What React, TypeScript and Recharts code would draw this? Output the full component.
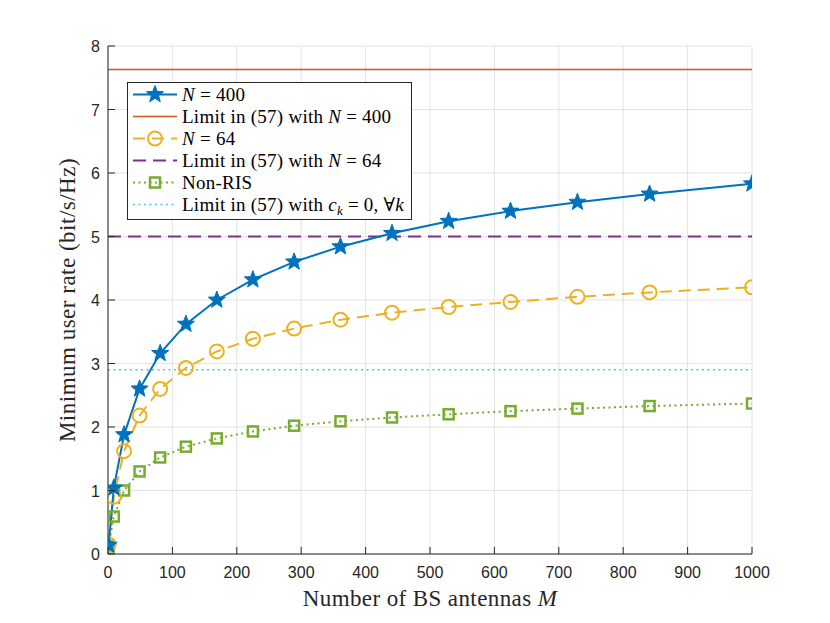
import React from 'react';
import { LineChart, Line, XAxis, YAxis, CartesianGrid, ReferenceLine, Legend } from 'recharts';

const antennas = [1, 9, 25, 49, 81, 121, 169, 225, 289, 361, 441, 529, 625, 729, 841, 1000];
const rateN400 = [0.14, 1.04, 1.88, 2.6, 3.16, 3.62, 4.0, 4.32, 4.6, 4.84, 5.05, 5.24, 5.4, 5.54, 5.67, 5.83];
const rateN64 = [0.15, 0.9, 1.62, 2.18, 2.6, 2.93, 3.19, 3.39, 3.55, 3.69, 3.8, 3.89, 3.97, 4.05, 4.12, 4.2];
const rateNonRIS = [0.12, 0.59, 1.0, 1.3, 1.52, 1.69, 1.82, 1.93, 2.02, 2.09, 2.15, 2.2, 2.25, 2.29, 2.33, 2.37];
const limitN400 = 7.63;
const limitN64 = 5.0;
const limitNonRIS = 2.9;
const xTicks = [0, 100, 200, 300, 400, 500, 600, 700, 800, 900, 1000];
const yTicks = [0, 1, 2, 3, 4, 5, 6, 7, 8];

const C_BLUE = '#0072BD';
const C_ORANGE = '#D95319';
const C_YELLOW = '#EDB120';
const C_PURPLE = '#7E2F8E';
const C_GREEN = '#77AC30';
const C_CYAN = '#4DBEEE';
const AXIS = '#262626';
const GRID = '#e3e3e3';
const SERIF = '"Liberation Serif", "DejaVu Serif", serif';
const SANS = '"Liberation Sans", Arial, sans-serif';

const data = antennas.map((m, i) => ({ m, n400: rateN400[i], n64: rateN64[i], nonris: rateNonRIS[i] }));

function starPoints(cx: number, cy: number, R: number) {
  const r = R * 0.42;
  const pts: string[] = [];
  for (let i = 0; i < 10; i++) {
    const rad = i % 2 === 0 ? R : r;
    const a = -Math.PI / 2 + (i * Math.PI) / 5;
    pts.push(`${cx + rad * Math.cos(a)},${cy + rad * Math.sin(a)}`);
  }
  return pts.join(' ');
}

const StarDot = (p: any) => {
  if (p.cx == null || p.cy == null) return <g key={p.index} />;
  return <polygon key={p.index} points={starPoints(p.cx, p.cy, 9)} fill={C_BLUE} stroke={C_BLUE} strokeWidth={1} />;
};
const CircleDot = (p: any) => {
  if (p.cx == null || p.cy == null) return <g key={p.index} />;
  return <circle key={p.index} cx={p.cx} cy={p.cy} r={7} fill="none" stroke={C_YELLOW} strokeWidth={2} />;
};
const SquareDot = (p: any) => {
  if (p.cx == null || p.cy == null) return <g key={p.index} />;
  return <rect key={p.index} x={p.cx - 5} y={p.cy - 5} width={10} height={10} fill="none" stroke={C_GREEN} strokeWidth={2.5} />;
};

const BottomTick = (p: any) => (
  <g>
    <line x1={p.x} y1={p.y} x2={p.x} y2={p.y - 7} stroke={AXIS} strokeWidth={1} />
    <text x={p.x} y={p.y + 24} textAnchor="middle" fontFamily={SANS} fontSize={16} fill={AXIS}>{p.payload.value}</text>
  </g>
);
const LeftTick = (p: any) => (
  <g>
    <line x1={p.x} y1={p.y} x2={p.x + 7} y2={p.y} stroke={AXIS} strokeWidth={1} />
    <text x={p.x - 8} y={p.y + 6} textAnchor="end" fontFamily={SANS} fontSize={16} fill={AXIS}>{p.payload.value}</text>
  </g>
);
const TopTick = (p: any) => (
  <line x1={p.x} y1={p.y} x2={p.x} y2={p.y + 7} stroke={AXIS} strokeWidth={1} />
);
const RightTick = (p: any) => (
  <line x1={p.x} y1={p.y} x2={p.x - 7} y2={p.y} stroke={AXIS} strokeWidth={1} />
);

const legendRows = [
  { key: 'n400', color: C_BLUE, dash: undefined, width: 2, marker: 'star', label: [['N', true], ['\u00a0=\u00a0400', false]] },
  { key: 'l400', color: C_ORANGE, dash: undefined, width: 1.5, marker: null, label: [['Limit in (57) with ', false], ['N', true], ['\u00a0=\u00a0400', false]] },
  { key: 'n64', color: C_YELLOW, dash: '12 7', width: 2, marker: 'circle', label: [['N', true], ['\u00a0=\u00a064', false]] },
  { key: 'l64', color: C_PURPLE, dash: '13 7', width: 2, marker: null, label: [['Limit in (57) with ', false], ['N', true], ['\u00a0=\u00a064', false]] },
  { key: 'nonris', color: C_GREEN, dash: '2 3.5', width: 2, marker: 'square', label: [['Non-RIS', false]] },
  { key: 'lnon', color: C_CYAN, dash: '2 3.5', width: 1.5, marker: null, label: [['Limit in (57) with ', false], ['c', true], ['k', true, 'sub'], ['\u00a0=\u00a00,\u00a0∀', false], ['k', true]] },
];

const LegendBox = () => (
  <svg width={285} height={138} style={{ display: 'block' }}>
    <rect x={0.5} y={0.5} width={284} height={137} fill="#fff" stroke={AXIS} strokeWidth={1} />
    {legendRows.map((r, i) => {
      const cy = 12.5 + 22 * i;
      return (
        <g key={r.key}>
          <line x1={6} y1={cy} x2={50} y2={cy} stroke={r.color} strokeWidth={r.width} strokeDasharray={r.dash} />
          {r.marker === 'star' && <polygon points={starPoints(28, cy, 9)} fill={C_BLUE} stroke={C_BLUE} />}
          {r.marker === 'circle' && <circle cx={28} cy={cy} r={7} fill="none" stroke={C_YELLOW} strokeWidth={2} />}
          {r.marker === 'square' && <rect x={23} y={cy - 5} width={10} height={10} fill="none" stroke={C_GREEN} strokeWidth={2.5} />}
          <text x={55} y={cy + 6} fontFamily={SERIF} fontSize={19} letterSpacing={0.25} fill="#000">
            {(r.label as any[]).map((s, j) => (
              <tspan key={j} fontStyle={s[1] ? 'italic' : 'normal'} fontSize={s[2] === 'sub' ? 13 : 19} dy={s[2] === 'sub' ? 4 : (j > 0 && (r.label as any[])[j - 1][2] === 'sub' ? -4 : 0)}>{s[0]}</tspan>
            ))}
          </text>
        </g>
      );
    })}
  </svg>
);

const XLabel = (p: any) => {
  const vb = p.viewBox;
  return (
    <text x={vb.x + vb.width / 2} y={vb.y + 52} textAnchor="middle" fontFamily={SERIF} fontSize={23} letterSpacing={0.4} fill={AXIS}>
      Number of BS antennas <tspan fontStyle="italic">M</tspan>
    </text>
  );
};
const YLabel = (p: any) => {
  const vb = p.viewBox;
  const cx = vb.x + 59;
  const cy = vb.y + vb.height / 2;
  return (
    <text x={cx} y={cy} transform={`rotate(-90 ${cx} ${cy})`} textAnchor="middle" dominantBaseline="central" fontFamily={SERIF} fontSize={23} letterSpacing={0.5} fill={AXIS}>
      Minimum user rate (bit/s/Hz)
    </text>
  );
};

export default function App() {
  return (
    <div style={{ width: 814, height: 607 }}>
      <LineChart width={814} height={607} data={data} margin={{ top: 38, right: 70, left: 0, bottom: 0 }}>
        <CartesianGrid stroke={GRID} strokeWidth={1} />
        <XAxis dataKey="m" type="number" domain={[0, 1000]} ticks={xTicks} height={61} tickSize={0} tickMargin={0} tickLine={false}
          axisLine={{ stroke: AXIS, strokeWidth: 1 }} tick={BottomTick} interval={0} label={XLabel} allowDataOverflow />
        <XAxis xAxisId="top" orientation="top" dataKey="m" type="number" domain={[0, 1000]} ticks={xTicks} height={0} tickSize={0} tickMargin={0}
          tickLine={false} axisLine={{ stroke: AXIS, strokeWidth: 1 }} tick={TopTick} interval={0} />
        <YAxis type="number" domain={[0, 8]} ticks={yTicks} width={100} tickSize={0} tickMargin={0} tickLine={false}
          axisLine={{ stroke: AXIS, strokeWidth: 1 }} tick={LeftTick} interval={0} label={YLabel} allowDataOverflow />
        <YAxis yAxisId="right" orientation="right" type="number" domain={[0, 8]} ticks={yTicks} width={0} tickSize={0} tickMargin={0}
          tickLine={false} axisLine={{ stroke: AXIS, strokeWidth: 1 }} tick={RightTick} interval={0} />
        <ReferenceLine y={limitN400} stroke={C_ORANGE} strokeWidth={1.5} />
        <ReferenceLine y={limitN64} stroke={C_PURPLE} strokeWidth={2} strokeDasharray="13 7" />
        <ReferenceLine y={limitNonRIS} stroke={C_CYAN} strokeWidth={1.5} strokeDasharray="2 3.5" />
        <Line dataKey="nonris" stroke={C_GREEN} strokeWidth={2} strokeDasharray="2 3.5" dot={SquareDot} isAnimationActive={false} />
        <Line dataKey="n64" stroke={C_YELLOW} strokeWidth={2} strokeDasharray="12 7" dot={CircleDot} isAnimationActive={false} />
        <Line dataKey="n400" stroke={C_BLUE} strokeWidth={2} dot={StarDot} isAnimationActive={false} />
        <Legend layout="vertical" align="center" verticalAlign="middle" content={LegendBox}
          wrapperStyle={{ left: 119, top: 74, width: 285, height: 138 }} />
      </LineChart>
    </div>
  );
}
